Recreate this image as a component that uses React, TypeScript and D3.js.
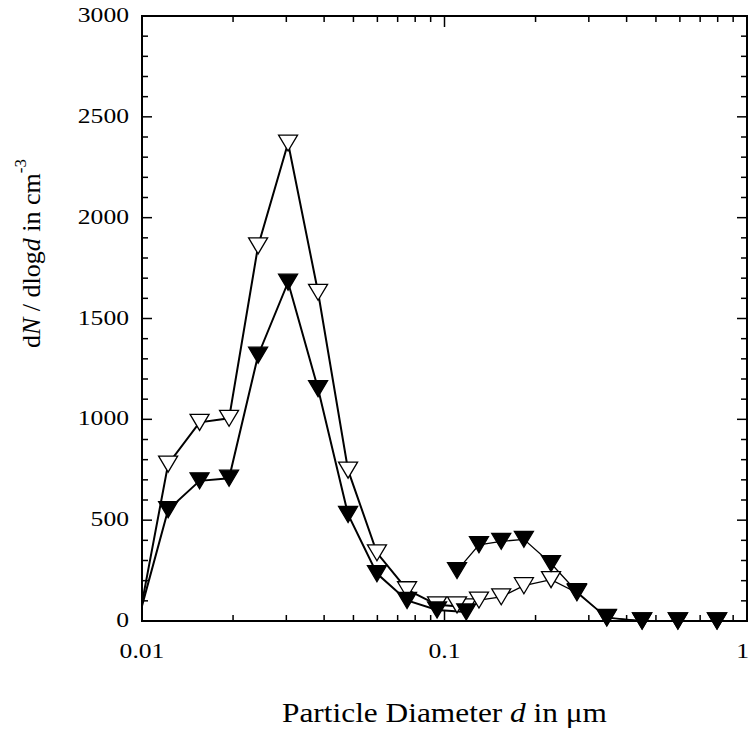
import React from 'react';
import * as d3 from 'd3';

// SMPS size channels (first instrument)
const smpsDiameter = [0.01, 0.0122, 0.0155, 0.0194, 0.0242, 0.0304, 0.0382, 0.048, 0.0598, 0.0752, 0.0945, 0.118];
const smpsOpen = [90, 778, 985, 1005, 1860, 2370, 1630, 748, 338, 155, 80, 70];
const smpsFilled = [75, 552, 695, 708, 1318, 1680, 1152, 528, 235, 102, 55, 45];

// second instrument
const secDiameter = [0.110, 0.130, 0.154, 0.183, 0.225, 0.274, 0.344, 0.450, 0.591, 0.796];
const secOpen = [80, 104, 120, 175, 205, 140, 15, 0, 0, 0];
const secFilled = [250, 378, 395, 405, 285, 145, 18, 0, 0, 0];

const yTicks = [0, 500, 1000, 1500, 2000, 2500, 3000];
const xTickLabels = ['0.01', '0.1', '1'];

const W = 750, H = 733;
const left = 142, right = 747, top = 16, bottom = 621;
const FONT = 'Liberation Serif';

export default function App() {
  const x = d3.scaleLog().domain([0.01, 1]).range([left, right]);
  const y = d3.scaleLinear().domain([0, 3000]).range([bottom, top]);

  const line = d3.line<[number, number]>().x(d => x(d[0])).y(d => y(d[1]));

  const series = [
    { xs: smpsDiameter, ys: smpsOpen, filled: false, lw: 2, skipFirst: true },
    { xs: smpsDiameter, ys: smpsFilled, filled: true, lw: 2, skipFirst: true },
    { xs: secDiameter, ys: secOpen, filled: false, lw: 1.3, skipFirst: false },
    { xs: secDiameter, ys: secFilled, filled: true, lw: 1.3, skipFirst: false },
  ];

  // downward triangle marker
  const tri = (cx: number, cy: number) => {
    const w = 9.5, h = 8;
    return `M${cx - w},${cy - h}L${cx + w},${cy - h}L${cx},${cy + h}Z`;
  };

  const minorY = d3.range(0, 3001, 100).filter(v => v % 500 !== 0);
  const majorX = [0.01, 0.1, 1];
  const minorX: number[] = [];
  [0.01, 0.1].forEach(b => { for (let k = 2; k <= 9; k++) minorX.push(b * k); });

  return (
    <svg width={W} height={H} style={{ position: 'absolute', left: 0, top: 0, background: '#fff' }}>
      <rect x={0} y={0} width={W} height={H} fill="#fff" />
      {/* lines */}
      {series.map((s, i) => (
        <path key={'l' + i} d={line(s.xs.map((v, j) => [v, s.ys[j]] as [number, number])) || ''}
          fill="none" stroke="#000" strokeWidth={s.lw} strokeLinejoin="miter" />
      ))}
      {/* open markers first, filled on top */}
      {[series[0], series[2], series[1], series[3]].map((s, i) => (
        <g key={'m' + i}>
          {s.xs.map((v, j) => (s.skipFirst && j === 0) ? null : (
            <path key={j} d={tri(x(v), y(s.ys[j]))}
              fill={s.filled ? '#000' : '#fff'} stroke="#000" strokeWidth={1.3} strokeLinejoin="miter" />
          ))}
        </g>
      ))}
      {/* frame */}
      <rect x={left} y={top} width={right - left} height={bottom - top} fill="none" stroke="#000" strokeWidth={2} />
      {/* y ticks */}
      {yTicks.map(v => (
        <g key={'yt' + v}>
          <line x1={left} x2={left + 10} y1={y(v)} y2={y(v)} stroke="#000" strokeWidth={1.5} />
          <line x1={right} x2={right - 10} y1={y(v)} y2={y(v)} stroke="#000" strokeWidth={1.5} />
          <text transform={`translate(${left - 13},${y(v) + 6}) scale(1.22,1)`} textAnchor="end"
            fontFamily={FONT} fontSize={21}>{v}</text>
        </g>
      ))}
      {minorY.map(v => (
        <g key={'ym' + v}>
          <line x1={left} x2={left + 6} y1={y(v)} y2={y(v)} stroke="#000" strokeWidth={1.5} />
          <line x1={right} x2={right - 6} y1={y(v)} y2={y(v)} stroke="#000" strokeWidth={1.5} />
        </g>
      ))}
      {/* x ticks */}
      {majorX.map((v, i) => {
        const last = i === majorX.length - 1;
        return (
          <g key={'xt' + v}>
            <line x1={x(v)} x2={x(v)} y1={bottom} y2={bottom - 11} stroke="#000" strokeWidth={1.5} />
            <line x1={x(v)} x2={x(v)} y1={top} y2={top + 11} stroke="#000" strokeWidth={1.5} />
            <text transform={`translate(${last ? W - 1 : x(v)},${bottom + 37}) scale(1.22,1)`}
              textAnchor={last ? 'end' : 'middle'}
              fontFamily={FONT} fontSize={21}>{xTickLabels[i]}</text>
          </g>
        );
      })}
      {minorX.map(v => (
        <g key={'xm' + v}>
          <line x1={x(v)} x2={x(v)} y1={bottom} y2={bottom - 6} stroke="#000" strokeWidth={1.5} />
          <line x1={x(v)} x2={x(v)} y1={top} y2={top + 6} stroke="#000" strokeWidth={1.5} />
        </g>
      ))}
      {/* axis titles */}
      <text transform={`translate(${(left + right) / 2},722) scale(1.12,1)`} textAnchor="middle"
        fontFamily={FONT} fontSize={28}>
        Particle Diameter <tspan fontStyle="italic">d</tspan> in μm
      </text>
      <text transform={`translate(40,${348}) rotate(-90)`} textAnchor="start"
        fontFamily={FONT} fontSize={26}>
        d<tspan fontStyle="italic">N</tspan> / dlog<tspan fontStyle="italic">d</tspan> in cm
        <tspan fontSize={17} dy={-14}>-3</tspan>
      </text>
    </svg>
  );
}
